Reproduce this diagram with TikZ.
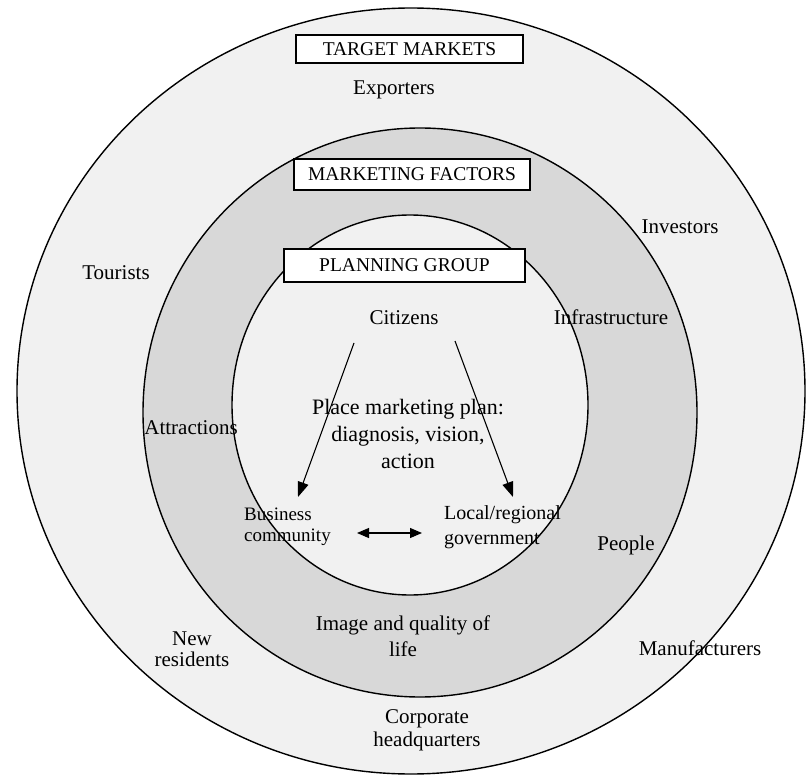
\documentclass[tikz,border=0pt]{standalone}
\usepackage{fontspec}
\setmainfont{Liberation Serif}
\usepackage{xcolor}
\usepackage{tikz}
\usetikzlibrary{arrows.meta}

\definecolor{ringlight}{HTML}{F1F1F1}
\definecolor{ringdark}{HTML}{D8D8D8}

\begin{document}
\begin{tikzpicture}[
    x=1pt, y=-1pt, % work in pixel-like units, y pointing down
    ring/.style={draw=black, line width=1.4pt},
    titlebox/.style={draw=black, fill=white, line width=1.3pt, inner sep=0pt, font=\fontsize{19.5}{22}\selectfont}, % headings of the three rings
    lbl/.style={align=center, inner sep=1pt, font=\fontsize{21}{26}\selectfont},
    flow/.style={line width=1.1pt, -{Triangle[length=15pt, width=11pt]}},
    both/.style={line width=1.1pt, {Triangle[length=12pt, width=10pt]}-{Triangle[length=12pt, width=10pt]}}
]
\useasboundingbox (0,0) rectangle (806,778);

% rings, outside in
\draw[ring, fill=ringlight] (411,391) ellipse [x radius=394pt, y radius=383pt];
\draw[ring, fill=ringdark] (420,412.5) ellipse [x radius=277pt, y radius=284.5pt];
\draw[ring, fill=ringlight] (410,405) ellipse [x radius=178pt, y radius=190pt];

% ring headings
\node[titlebox, minimum width=227pt, minimum height=28pt] (markets) at (409.5,49) {TARGET MARKETS};
\node[titlebox, minimum width=236pt, minimum height=31pt] (factors) at (412,174.5) {MARKETING FACTORS};
\node[titlebox, minimum width=241pt, minimum height=33pt] (planning) at (404.5,265.5) {PLANNING GROUP};

% target markets
\node[lbl] (exporters) at (394,90) {Exporters};
\node[lbl] (tourists) at (116,273) {Tourists};
\node[lbl] (investors) at (680,227) {Investors};
\node[lbl, font=\fontsize{21}{21}\selectfont] (newres) at (192,649) {New\\residents};
\node[lbl] (manufacturers) at (700,648) {Manufacturers};
\node[lbl, font=\fontsize{21}{23}\selectfont] (corporate) at (427,730) {Corporate\\headquarters};

% marketing factors
\node[lbl] (infra) at (611,317) {Infrastructure};
\node[lbl] (attractions) at (191,428) {Attractions};
\node[lbl] (people) at (626,545) {People};
\node[lbl] (image) at (403,636) {Image and quality of\\life};

% planning group
\node[lbl] (citizens) at (404,318) {Citizens};
\node[lbl, font=\fontsize{22}{27}\selectfont] (plan) at (408,434) {Place marketing plan:\\diagnosis, vision,\\action};
\node[lbl, anchor=west, align=left, font=\fontsize{19}{20.5}\selectfont] (business) at (243,527) {Business\\community};
\node[lbl, anchor=west, align=left, font=\fontsize{20}{25}\selectfont] (government) at (443,527) {Local/regional\\government};

\coordinate (cit-left) at (354,343);
\coordinate (cit-right) at (455,341);
\coordinate (bus-top) at (298,497);
\coordinate (gov-top) at (513,497);
\coordinate (bus-end) at (357,533);
\coordinate (gov-end) at (422,533);

\draw[flow] (cit-left) -- (bus-top);
\draw[flow] (cit-right) -- (gov-top);
\draw[both] (bus-end) -- (gov-end);
\end{tikzpicture}
\end{document}
